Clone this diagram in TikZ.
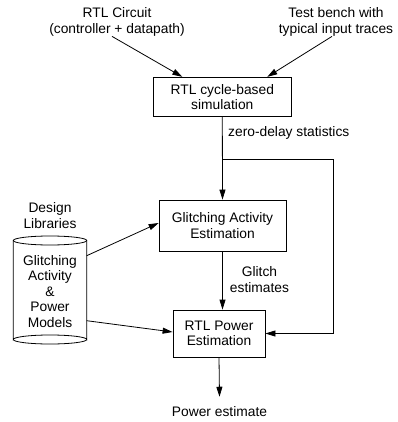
\documentclass[tikz,border=0pt]{standalone}
\usepackage{fontspec}
\setmainfont{Liberation Sans}
\usetikzlibrary{arrows.meta}
\begin{document}
\begin{tikzpicture}[x=1pt,y=-1pt,
  every node/.style={font=\fontsize{13.8}{15.5}\selectfont, align=center, inner sep=0pt},
  procbox/.style={draw, line width=0.8pt, fill=white},
  conn/.style={line width=0.8pt},
  arr/.style={conn, -{Triangle[length=10pt,width=6pt]}}]
\useasboundingbox (0,0) rectangle (397,422);
% top inputs
\node (rtl) at (117,22) {RTL Circuit\\(controller + datapath)};
\node (tb) at (336,22) {Test bench with\\typical input traces};
% boxes
\node[procbox, minimum width=137.5pt, minimum height=39.5pt] (sim) at (222.3,97) {RTL cycle-based\\simulation};
\node[procbox, minimum width=127pt, minimum height=51pt] (gae) at (222.5,225.5) {Glitching Activity\\Estimation};
\node[procbox, minimum width=92pt, minimum height=47pt] (rpe) at (219,333.5) {RTL Power\\Estimation};
% labels
\node[anchor=west] (zd) at (228,133) {zero-delay statistics};
\node (ge) at (259.5,279.5) {Glitch\\estimates};
\node[inner sep=10pt] (pe) at (219.5,412) {Power estimate};
% cylinder
\draw[conn, fill=white] (13.3,240.5) -- (13.3,339.5) arc[start angle=180, end angle=360, x radius=36.7, y radius=4.5] -- (86.7,240.5);
\draw[conn] (13.3,339.5) arc[start angle=180, end angle=0, x radius=36.7, y radius=4.5];
\draw[conn, fill=white] (50,240.5) ellipse[x radius=36.7, y radius=4.5];
\node (dl) at (50,215.5) {Design\\Libraries};
\node (db) at (50,291.3) {Glitching\\Activity\\\&\\Power\\Models};
\coordinate (dbA) at (86.7,255.7);
\coordinate (dbB) at (86.7,320.7);
% connectors
\draw[arr] ([xshift=-5pt]rtl.south) -- ([xshift=-40pt]sim.north);
\draw[arr] ([xshift=-4pt]tb.south) -- ([xshift=45pt]sim.north);
\draw[arr] (sim.south) -- (gae.north);
\coordinate (br) at (222.4,159);
\coordinate (corner) at (333,159);
\draw[arr] (br) -- (corner) |- (rpe.east);
\draw[arr] ([yshift=-0.5pt]gae.south) -- (gae.south |- rpe.north);
\draw[arr] (dbA) -- ([yshift=2.5pt]gae.west);
\draw[arr] (dbB) -- ([yshift=1.5pt]rpe.west);
\draw[arr] (rpe.south) -- (pe.north);
\end{tikzpicture}
\end{document}
